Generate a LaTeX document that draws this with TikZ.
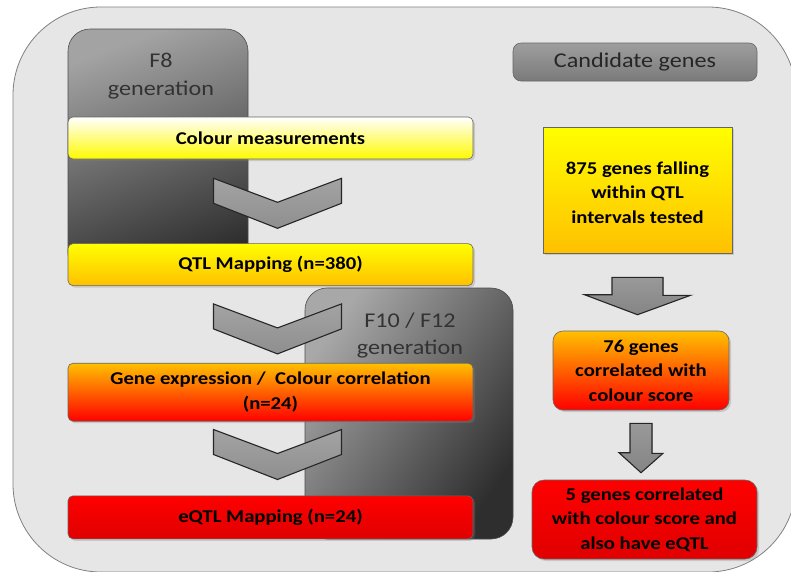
\documentclass[tikz,border=0pt]{standalone}
\usepackage{fontspec}
\setmainfont[FakeStretch=1.15]{Carlito}
\usetikzlibrary{positioning,calc,shadows}

\definecolor{bgfill}{HTML}{E6E6E6}
\definecolor{amber}{HTML}{FFC000}
\definecolor{deepred}{HTML}{E00000}

\begin{document}
\begin{tikzpicture}[x=1pt,y=-1pt,
    every node/.style={inner sep=0pt,align=center},
    genbox/.style={rounded corners=22pt,draw=black!70,line width=0.6pt,
        font=\fontsize{21}{28}\selectfont,text=black!80},
    stepbox/.style={rounded corners=5pt,draw=black!60,line width=0.6pt,
        minimum width=405pt,minimum height=42pt,
        font=\fontsize{18}{25}\selectfont\bfseries,
        drop shadow={opacity=.3,shadow xshift=2pt,shadow yshift=-2pt}},
    genebox/.style={rounded corners=10pt,draw=black!60,line width=0.6pt,
        minimum height=79pt,font=\fontsize{18}{24.5}\selectfont\bfseries,
        drop shadow={opacity=.3,shadow xshift=2pt,shadow yshift=-2pt}},
    chevfill/.style={draw=black!85,line width=1.1pt,line join=miter,top color=black!36,bottom color=black!44},
    blockarrow/.style={draw=black!85,line width=1.1pt,top color=black!40,bottom color=black!48},
    chevron/.pic={\path[chevfill] (-64,-25) -- (0,-1) -- (64,-25) -- (64,0) -- (0,25) -- (-64,0) -- cycle;}]

\useasboundingbox (0,0) rectangle (791,571);
\clip (0,0) rectangle (791,571);

% background panel
\filldraw[fill=bgfill,draw=black!50,line width=0.8pt,rounded corners=88pt] (13,7) rectangle (796,572);

% left column
\node[genbox,minimum width=180pt,minimum height=246pt,top color=black!36,bottom color=black!82,shading angle=20] (f8) at (158,152) {};
\node[font=\fontsize{21}{28}\selectfont,text=black!80] (f8txt) at (161,76) {F8\\generation};

\node[stepbox,top color=white,middle color=yellow,bottom color=yellow!92!amber] (cm) at (270.5,138) {Colour measurements};
\pic at ($(cm.south)+(7,44)$) {chevron};
\node[stepbox,below=84pt of cm,top color=yellow,bottom color=amber] (qtl) {QTL Mapping (n=380)};

\node[genbox,minimum width=208pt,minimum height=251pt,top color=black!34,bottom color=black!82,shading angle=55] (f10) at (409,413.5) {};
\node[font=\fontsize{21}{27}\selectfont,text=black!80] (f10txt) at (410,335.5) {F10 / F12\\generation};

\pic at ($(qtl.south)+(7,43)$) {chevron};
\node[stepbox,below=77pt of qtl,minimum height=58pt,top color=amber,middle color=orange!70!red,bottom color=red]
    (gexp) {Gene expression /\ \ Colour correlation\\(n=24)};
\pic at ($(gexp.south)+(7,33)$) {chevron};
\node[stepbox,below=74pt of gexp,minimum height=43pt,top color=red,bottom color=deepred] (eqtl) {eQTL Mapping (n=24)};

% right column
\node[rounded corners=8pt,draw=black!60,line width=0.6pt,minimum width=244pt,minimum height=38pt,
    top color=black!38,bottom color=black!52,font=\fontsize{21}{26}\selectfont,text=black!85] (cand) at (635,62) {Candidate genes};
\node[draw=black!60,line width=0.6pt,minimum width=189pt,minimum height=126pt,
    font=\fontsize{18}{24.5}\selectfont\bfseries,top color=yellow,bottom color=amber,
    drop shadow={opacity=.3,shadow xshift=2pt,shadow yshift=-2pt}] (b875) at (637.5,190) {\strut875 genes falling\\within QTL\\intervals tested};
\node[genebox,minimum width=176pt,top color=amber,middle color=orange!70!red,bottom color=red] (b76) at (641,370.5) {76 genes\\correlated with\\colour score};
\node[genebox,rounded corners=12pt,minimum width=225pt,top color=red,bottom color=deepred] (b5) at (644.5,519.5) {5 genes correlated\\with colour score and\\also have eQTL};

\filldraw[blockarrow] ($(b875.south)+(-25.5,24)$) -- ++(51,0) -- ++(0,18) -- ++(27.5,0)
    -- ($(b875.south |- b76.north)+(0,-16)$) -- ++(-53,-20) -- ++(27.5,0) -- cycle;
\filldraw[blockarrow] ($(b76.south)+(-11,13)$) -- ++(22,0) -- ++(0,30) -- ++(11,0)
    -- ($(b76.south |- b5.north)+(0,-7)$) -- ++(-22,-20) -- ++(11,0) -- cycle;

\end{tikzpicture}
\end{document}
